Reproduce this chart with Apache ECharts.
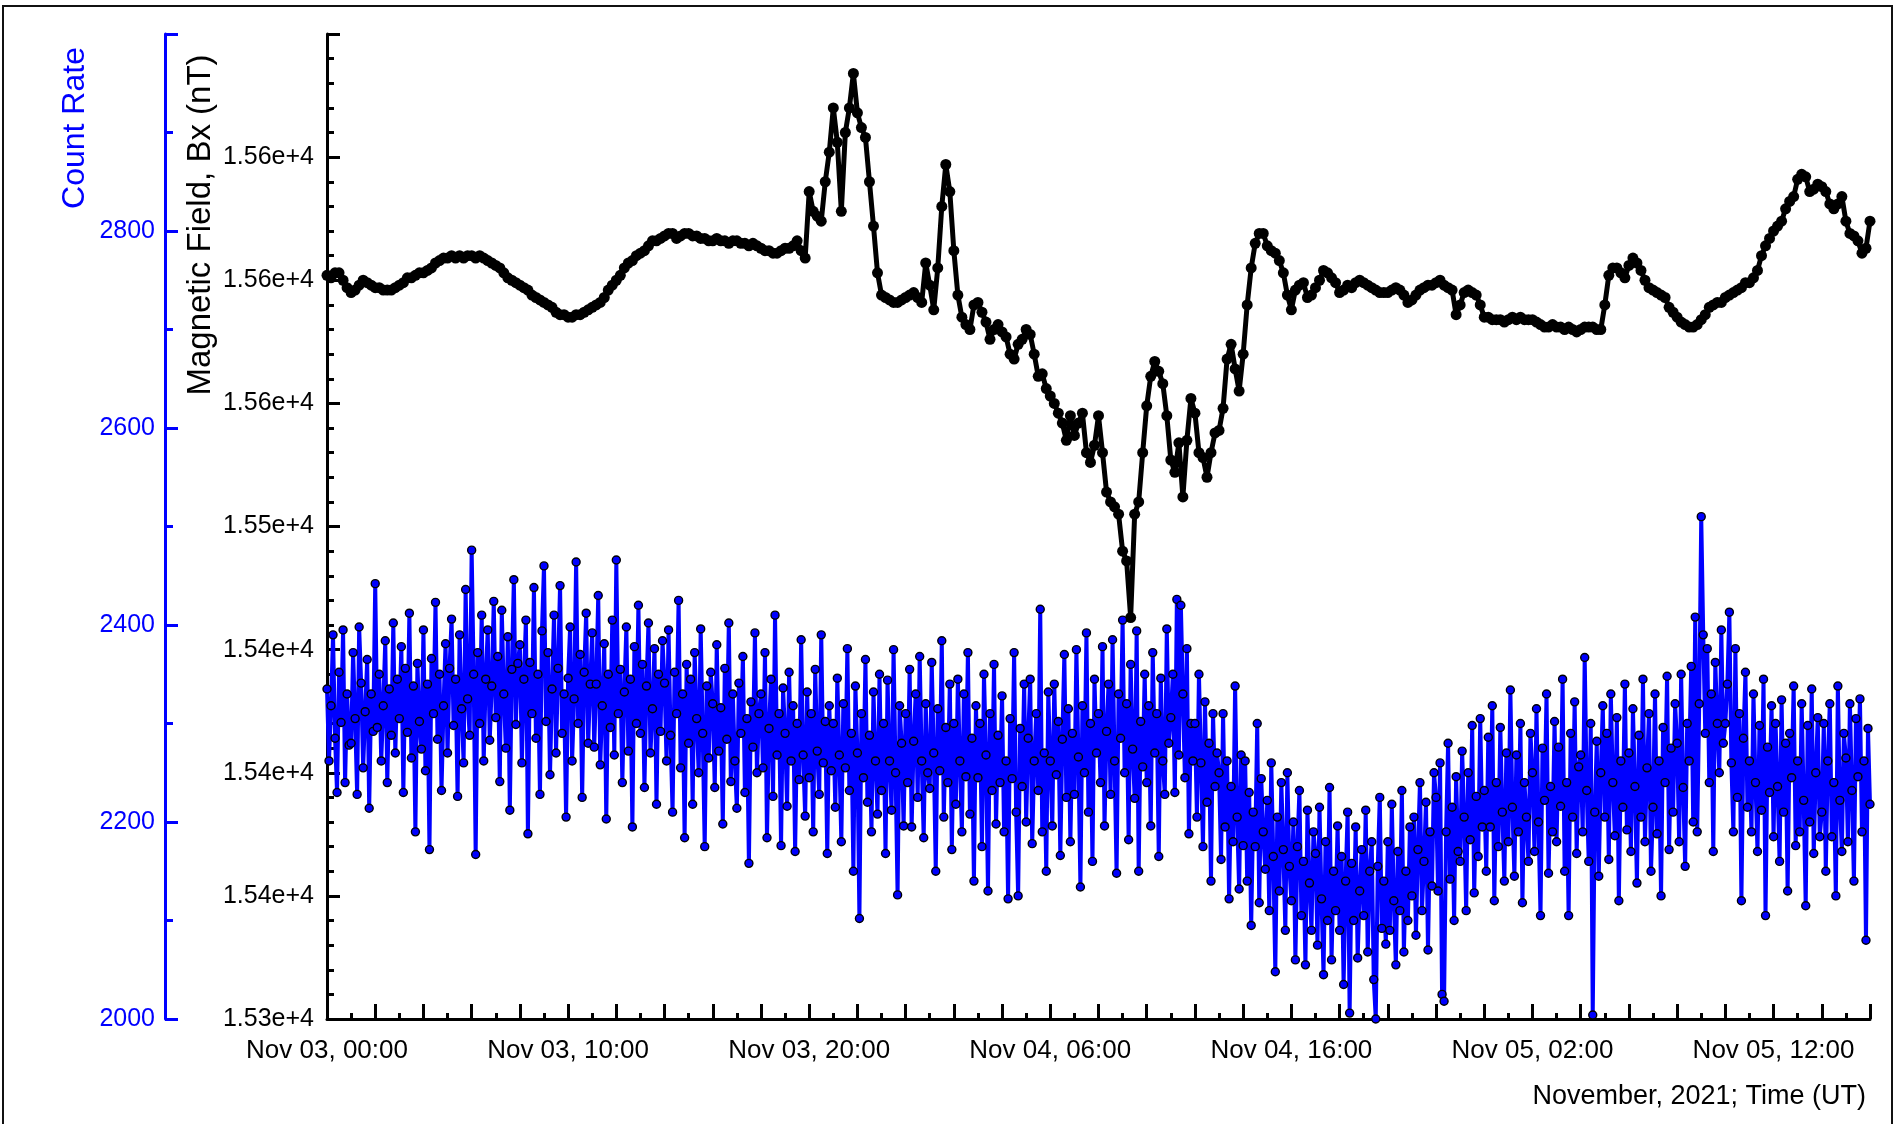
<!DOCTYPE html>
<html>
<head>
<meta charset="utf-8">
<script src="https://cdn.jsdelivr.net/npm/echarts@6/dist/echarts.min.js"></script>
<style>
html,body{margin:0;padding:0;background:#fff;}
#chart{width:1895px;height:1124px;}
</style>
</head>
<body>
<div id="chart"></div>
<script>
// ---- data ----
var startTime = Date.UTC(2021, 10, 3, 0, 0);   // Nov 03, 00:00 UT
var endTime = Date.UTC(2021, 10, 5, 16, 0);    // Nov 05, 16:00 UT
var bxStepMinutes = 10;
var countStepMinutes = 5;

// Magnetic field Bx (nT), one row per hour, 10-min samples
var bxValues = [
15602,15601,15603,15603,15600,15597,
15595,15596,15598,15600,15599,15598,
15597,15597,15596,15596,15596,15597,
15598,15599,15601,15601,15602,15603,
15603,15604,15605,15607,15608,15609,
15609,15610,15609,15610,15609,15610,
15610,15609,15610,15609,15608,15607,
15606,15605,15603,15601,15600,15599,
15598,15597,15596,15594,15593,15592,
15591,15590,15589,15587,15586,15586,
15585,15585,15586,15586,15587,15588,
15589,15590,15591,15593,15596,15598,
15600,15602,15605,15607,15608,15610,
15611,15612,15614,15616,15616,15617,
15618,15619,15619,15617,15618,15619,
15619,15618,15618,15617,15617,15616,
15616,15617,15616,15616,15615,15616,
15616,15615,15615,15614,15615,15614,
15613,15612,15612,15611,15611,15612,
15613,15613,15614,15616,15612,15609,
15636,15628,15626,15624,15640,15652,
15670,15656,15628,15660,15670,15684,
15668,15662,15658,15640,15622,15603,
15594,15593,15592,15591,15591,15592,
15593,15594,15595,15593,15591,15607,
15598,15588,15605,15630,15647,15636,
15612,15594,15585,15582,15580,15590,
15591,15587,15583,15576,15580,15582,
15579,15577,15570,15568,15574,15576,
15580,15578,15570,15561,15562,15556,
15553,15550,15546,15542,15535,15545,
15537,15542,15546,15530,15526,15533,
15545,15530,15514,15510,15508,15505,
15490,15486,15463,15505,15510,15530,
15549,15561,15567,15563,15558,15545,
15527,15522,15534,15512,15535,15552,
15546,15530,15528,15520,15530,15538,
15539,15548,15568,15574,15564,15555,
15570,15590,15605,15615,15619,15619,
15614,15612,15611,15608,15603,15594,
15588,15596,15598,15599,15593,15594,
15597,15600,15604,15603,15601,15599,
15595,15596,15598,15597,15599,15600,
15599,15598,15597,15596,15595,15595,
15595,15596,15597,15596,15594,15591,
15592,15594,15596,15597,15598,15598,
15599,15600,15598,15597,15596,15586,
15590,15595,15596,15595,15594,15590,
15585,15585,15584,15584,15584,15583,
15584,15585,15584,15585,15584,15584,
15584,15583,15582,15581,15581,15582,
15581,15581,15580,15581,15580,15579,
15580,15581,15581,15581,15580,15580,
15590,15602,15605,15605,15603,15601,
15606,15609,15607,15604,15600,15597,
15596,15595,15594,15593,15589,15587,
15585,15583,15582,15581,15581,15582,
15584,15586,15589,15590,15591,15591,
15593,15594,15595,15596,15597,15599,
15599,15601,15604,15610,15614,15617,
15620,15622,15624,15629,15632,15634,
15641,15643,15642,15636,15637,15639,
15638,15636,15631,15629,15631,15634,
15624,15619,15618,15616,15611,15613,
15624
];

// Count rate, one row per hour, 5-min samples
var countValues = [
2335,2262,2318,2390,2285,2230,2352,2301,2395,2240,2330,2278,
2280,2372,2305,2228,2398,2341,2255,2312,2365,2214,2330,2292,
2442,2296,2350,2262,2318,2384,2240,2335,2288,2402,2270,2345,
2305,2378,2230,2356,2291,2412,2265,2338,2190,2361,2302,2274,
2395,2252,2340,2172,2366,2310,2423,2284,2350,2232,2318,2381,
2270,2356,2406,2298,2345,2226,2390,2315,2260,2436,2325,2288,
2476,2350,2167,2372,2300,2410,2262,2345,2395,2283,2338,2424,
2306,2368,2241,2415,2330,2275,2388,2212,2355,2446,2299,2361,
2380,2260,2345,2405,2188,2362,2310,2438,2285,2350,2228,2394,
2460,2302,2372,2248,2335,2410,2270,2356,2440,2290,2330,2205,
2346,2398,2262,2325,2464,2300,2370,2225,2352,2412,2280,2340,
2392,2276,2340,2430,2258,2318,2381,2203,2350,2296,2405,2268,
2466,2310,2355,2240,2332,2398,2272,2345,2195,2378,2300,2420,
2290,2360,2235,2338,2402,2270,2315,2376,2218,2350,2292,2384,
2341,2262,2395,2288,2210,2352,2310,2425,2255,2330,2184,2360,
2280,2345,2218,2372,2305,2250,2396,2290,2175,2338,2265,2352,
2320,2235,2380,2272,2316,2198,2356,2284,2402,2241,2330,2262,
2214,2341,2290,2368,2230,2305,2158,2322,2276,2392,2250,2310,
2330,2255,2372,2184,2295,2345,2226,2410,2268,2310,2176,2336,
2290,2216,2352,2262,2318,2170,2300,2243,2385,2268,2206,2332,
2245,2310,2190,2355,2272,2228,2390,2260,2302,2168,2318,2252,
2300,2215,2346,2268,2180,2320,2255,2376,2232,2290,2150,2338,
2270,2102,2310,2245,2365,2220,2288,2190,2332,2262,2208,2350,
2232,2300,2168,2344,2262,2212,2375,2250,2126,2318,2280,2196,
2310,2240,2355,2195,2282,2330,2225,2368,2262,2184,2320,2250,
2234,2362,2270,2150,2315,2252,2384,2205,2296,2240,2340,2172,
2300,2218,2345,2262,2190,2330,2246,2372,2208,2285,2140,2318,
2245,2300,2175,2350,2268,2130,2310,2232,2360,2198,2288,2240,
2328,2190,2262,2122,2305,2244,2372,2210,2125,2295,2236,2340,
2200,2285,2345,2178,2262,2310,2232,2416,2190,2270,2150,2332,
2262,2196,2340,2248,2302,2166,2284,2370,2225,2315,2180,2290,
2228,2375,2266,2134,2318,2250,2392,2210,2300,2160,2345,2270,
2310,2240,2378,2196,2292,2340,2228,2385,2262,2148,2330,2285,
2405,2250,2320,2182,2360,2274,2224,2394,2150,2302,2256,2350,
2240,2318,2196,2372,2270,2310,2165,2346,2262,2228,2396,2280,
2306,2350,2230,2426,2268,2420,2330,2245,2376,2188,2300,2262,
2300,2205,2350,2260,2175,2322,2220,2280,2140,2310,2236,2270,
2250,2162,2310,2195,2262,2122,2236,2180,2338,2205,2132,2268,
2176,2262,2140,2230,2095,2210,2175,2300,2118,2244,2190,2152,
2222,2110,2260,2165,2048,2205,2130,2240,2172,2090,2250,2155,
2120,2200,2060,2175,2232,2105,2160,2055,2212,2138,2090,2190,
2168,2075,2215,2122,2045,2180,2100,2235,2060,2150,2110,2196,
2090,2165,2035,2140,2210,2006,2158,2100,2195,2062,2130,2172,
2105,2212,2068,2150,2180,2040,2000,2155,2225,2092,2140,2076,
2180,2090,2218,2120,2055,2170,2110,2232,2068,2150,2100,2195,
2125,2205,2085,2172,2240,2110,2160,2220,2070,2190,2135,2250,
2225,2130,2260,2025,2018,2190,2280,2142,2215,2100,2246,2170,
2160,2272,2205,2110,2250,2182,2298,2128,2226,2165,2305,2195,
2232,2150,2286,2195,2318,2120,2240,2175,2296,2210,2140,2270,
2180,2334,2215,2145,2268,2190,2300,2118,2240,2205,2160,2290,
2250,2170,2315,2200,2105,2275,2222,2330,2148,2236,2190,2302,
2180,2276,2216,2345,2150,2240,2105,2290,2205,2322,2168,2256,
2268,2190,2367,2232,2160,2300,2004,2210,2282,2145,2250,2318,
2205,2290,2162,2330,2240,2186,2306,2120,2262,2215,2340,2192,
2270,2170,2315,2236,2138,2288,2205,2345,2180,2255,2310,2150,
2215,2330,2188,2262,2125,2296,2240,2348,2172,2275,2210,2320,
2280,2180,2350,2235,2155,2300,2262,2358,2200,2408,2190,2320,
2510,2390,2290,2376,2240,2330,2170,2362,2300,2250,2395,2280,
2300,2340,2413,2260,2190,2376,2225,2310,2120,2285,2352,2215,
2262,2190,2330,2240,2170,2298,2212,2345,2105,2276,2230,2318,
2185,2300,2236,2160,2324,2210,2280,2130,2290,2245,2338,2176,
2262,2190,2320,2222,2115,2298,2200,2335,2168,2250,2306,2185,
2210,2300,2150,2262,2320,2185,2240,2125,2338,2222,2170,2290,
2265,2180,2320,2232,2140,2305,2246,2325,2190,2262,2080,2295,
2218
];

// axis tick labels
var xTickLabels = ['Nov 03, 00:00','Nov 03, 10:00','Nov 03, 20:00','Nov 04, 06:00','Nov 04, 16:00','Nov 05, 02:00','Nov 05, 12:00'];
var bxTickLabels = ['1.53e+4','1.54e+4','1.54e+4','1.54e+4','1.55e+4','1.56e+4','1.56e+4','1.56e+4',''];
var countTickLabels = ['2000','2200','2400','2600','2800',''];

// ---- build ----
var HOUR = 3600000;
var bxData = bxValues.map(function (v, i) { return [startTime + i * bxStepMinutes * 60000, v]; });
var countData = countValues.map(function (v, i) { return [startTime + i * countStepMinutes * 60000, v]; });

var FONT = '"Liberation Sans", Arial, Helvetica, sans-serif';
var BLUE = '#0000ff';

var chart = echarts.init(document.getElementById('chart'), null, { renderer: 'canvas' });
chart.setOption({
  animation: false,
  backgroundColor: '#ffffff',
  grid: { left: 327, right: 25, top: 34, bottom: 105, containLabel: false },
  xAxis: {
    type: 'value',
    min: startTime,
    max: endTime,
    interval: 2 * HOUR,
    axisLine: { show: true, lineStyle: { color: '#000', width: 3 } },
    axisTick: { show: true, inside: true, length: 15, lineStyle: { color: '#000', width: 3 } },
    minorTick: { show: true, splitNumber: 2, length: 6, lineStyle: { color: '#000', width: 3 } },
    splitLine: { show: false },
    axisLabel: {
      show: true,
      margin: 19,
      color: '#000',
      fontSize: 26,
      fontFamily: FONT,
      formatter: function (v) {
        var h = Math.round((v - startTime) / HOUR);
        if (h % 10 !== 0) return '';
        var s = xTickLabels[h / 10];
        return s === undefined ? '' : s;
      }
    }
  },
  yAxis: [
    {
      type: 'value',
      position: 'left',
      min: 15300,
      max: 15700,
      interval: 50,
      axisLine: { show: true, lineStyle: { color: '#000', width: 3 } },
      axisTick: { show: true, inside: true, length: 13, lineStyle: { color: '#000', width: 3 } },
      minorTick: { show: true, splitNumber: 5, length: 7, lineStyle: { color: '#000', width: 3 } },
      splitLine: { show: false },
      axisLabel: {
        margin: 13,
        color: '#000',
        fontSize: 25,
        fontFamily: FONT,
        formatter: function (v) {
          var s = bxTickLabels[Math.round((v - 15300) / 50)];
          return s === undefined ? '' : s;
        }
      }
    },
    {
      type: 'value',
      position: 'left',
      offset: 162,
      min: 2000,
      max: 3000,
      interval: 200,
      axisLine: { show: true, lineStyle: { color: BLUE, width: 3 } },
      axisTick: { show: true, inside: true, length: 13, lineStyle: { color: BLUE, width: 3 } },
      minorTick: { show: true, splitNumber: 2, length: 8, lineStyle: { color: BLUE, width: 3 } },
      splitLine: { show: false },
      axisLabel: {
        margin: 10,
        color: BLUE,
        fontSize: 25,
        fontFamily: FONT,
        formatter: function (v) {
          var s = countTickLabels[Math.round((v - 2000) / 200)];
          return s === undefined ? '' : s;
        }
      }
    }
  ],
  series: [
    {
      name: 'Magnetic Field, Bx',
      type: 'line',
      yAxisIndex: 0,
      data: bxData,
      symbol: 'circle',
      symbolSize: 11,
      showSymbol: true,
      itemStyle: { color: '#000' },
      lineStyle: { color: '#000', width: 5 },
      z: 2
    },
    {
      name: 'Count Rate',
      type: 'line',
      yAxisIndex: 1,
      data: countData,
      symbol: 'circle',
      symbolSize: 8,
      showSymbol: true,
      itemStyle: { color: BLUE, borderColor: '#000', borderWidth: 1.4 },
      lineStyle: { color: BLUE, width: 4 },
      z: 3
    }
  ],
  graphic: [
    {
      type: 'rect',
      shape: { x: 3, y: 6, width: 1889, height: 1140 },
      style: { fill: 'none', stroke: '#111', lineWidth: 2 },
      silent: true,
      z: 0
    },
    {
      type: 'text',
      x: 75, y: 128,
      rotation: Math.PI / 2,
      style: { text: 'Count Rate', fill: BLUE, font: '32px ' + FONT, align: 'center', verticalAlign: 'middle' },
      z: 10
    },
    {
      type: 'text',
      x: 201, y: 225,
      rotation: Math.PI / 2,
      style: { text: 'Magnetic Field, Bx (nT)', fill: '#000', font: '33px ' + FONT, align: 'center', verticalAlign: 'middle' },
      z: 10
    },
    {
      type: 'text',
      x: 1866, y: 1097,
      style: { text: 'November, 2021; Time (UT)', fill: '#000', font: '27px ' + FONT, align: 'right', verticalAlign: 'middle' },
      z: 10
    }
  ]
});
</script>
</body>
</html>
